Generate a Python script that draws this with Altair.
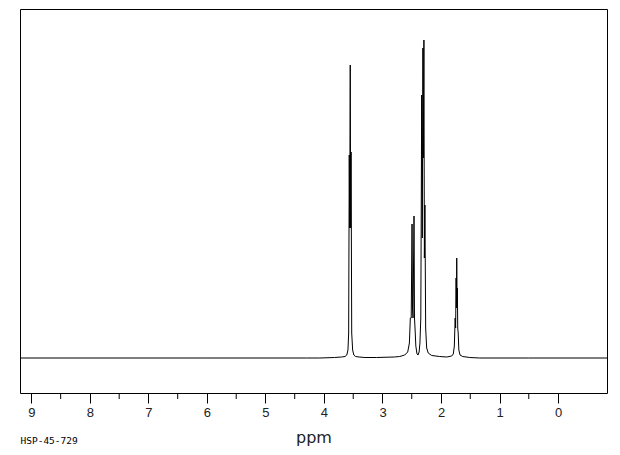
import altair as alt
import pandas as pd

# Spectrum: chemical shift (ppm) and intensity (arbitrary, baseline = 0)
ppm = [9.195, 6.0, 4.3, 4.07, 3.82, 3.70, 3.64, 3.61, 3.59, 3.578, 3.568, 3.560, 3.551, 3.544,
       3.537, 3.526, 3.51, 3.49, 3.46, 3.40, 3.30, 3.10, 2.80, 2.706, 2.620, 2.569, 2.540,
       2.524, 2.509, 2.495, 2.487, 2.478, 2.461, 2.453, 2.444, 2.430, 2.410, 2.392, 2.374,
       2.360, 2.345, 2.330, 2.320, 2.309, 2.301, 2.292, 2.284, 2.275, 2.262, 2.245, 2.218,
       2.159, 2.022, 1.902, 1.817, 1.790, 1.772, 1.758, 1.750, 1.742, 1.736, 1.731, 1.726,
       1.720, 1.714, 1.706, 1.695, 1.675, 1.629, 1.509, 1.338, 0.5, -0.837]
intensity = [0, 0, 0, 0, 0.5, 1, 1.5, 3, 8, 25, 203, 130, 293, 130,
             206, 25, 8, 3, 1.5, 1, 0.5, 0.5, 1, 1.5, 3, 6, 15,
             40, 40, 134, 50, 40, 142, 40, 30, 12, 4, 3, 6,
             15, 40, 263, 120, 310, 200, 318, 100, 153, 30, 10, 5,
             2.5, 1.5, 1, 2, 4, 12, 40, 30, 80, 50, 100, 50,
             70, 30, 25, 8, 3, 1.5, 0.5, 0, 0, 0]

major_ticks = [0, 1, 2, 3, 4, 5, 6, 7, 8, 9]
minor_ticks = [0.5, 1.5, 2.5, 3.5, 4.5, 5.5, 6.5, 7.5, 8.5]
x_title = "ppm"
code_label = "HSP-45-729"

spec = pd.DataFrame({"ppm": ppm, "intensity": intensity})
minor = pd.DataFrame({"ppm": minor_ticks})

xscale = alt.Scale(domain=[-0.837, 9.195], reverse=True, nice=False, zero=False)
yscale = alt.Scale(domain=[-35, 349], nice=False, zero=False)

line = alt.Chart(spec).mark_line(color="black", strokeWidth=1, interpolate="linear").encode(
    x=alt.X("ppm:Q", scale=xscale,
            axis=alt.Axis(values=major_ticks, format="d", title=x_title, grid=False, domain=False,
                          tickSize=10, tickColor="black", tickWidth=1,
                          labelFont="Liberation Sans", labelFontSize=13, labelColor="#222",
                          labelPadding=3, titleFont="DejaVu Sans", titleFontSize=16,
                          titleFontWeight="normal", titleColor="#222", titlePadding=10)),
    y=alt.Y("intensity:Q", scale=yscale, axis=None),
)

minor_rules = alt.Chart(minor).mark_rule(color="black", strokeWidth=1).encode(
    x=alt.X("ppm:Q", scale=xscale),
    y=alt.value(384),
    y2=alt.value(390),
)

label = alt.Chart(pd.DataFrame({"t": [code_label]})).mark_text(
    align="left", baseline="middle", font="DejaVu Sans Mono", fontSize=9.5, color="black"
).encode(text="t:N", x=alt.value(0.5), y=alt.value(432))

chart = alt.layer(line, minor_rules, label).properties(
    width=587, height=384,
    autosize=alt.AutoSizeParams(type="none"),
    padding={"left": 12, "top": 1, "right": 4, "bottom": 53},
    background="white",
).configure_view(stroke="black", strokeWidth=1, strokeOpacity=1)

chart.save("out.html", embed_options={"renderer": "svg", "actions": False})
